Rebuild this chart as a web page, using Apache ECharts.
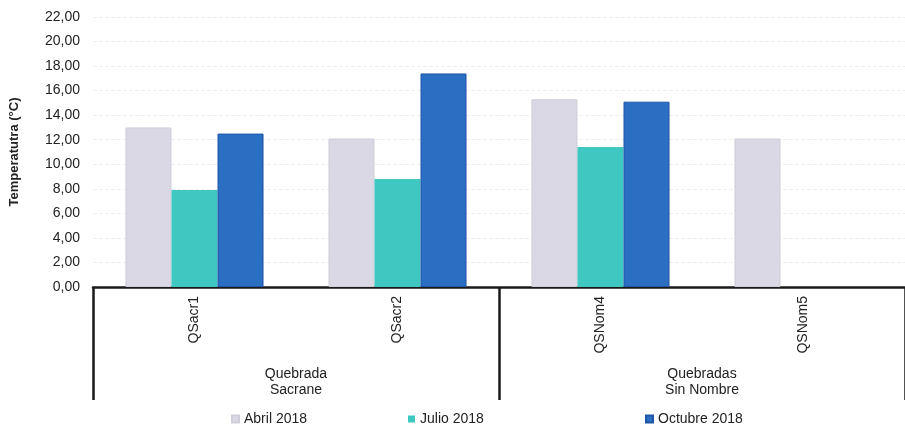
<!DOCTYPE html>
<html>
<head>
<meta charset="utf-8">
<script src="https://cdn.jsdelivr.net/npm/echarts@6/dist/echarts.min.js"></script>
<style>
  html, body { margin: 0; padding: 0; background: #fff; }
  #chart { width: 905px; height: 432px; }
</style>
</head>
<body>
<div id="chart"></div>
<script>
// Stations and the stream each belongs to
const stations = ['QSacr1', 'QSacr2', 'QSNom4', 'QSNom5'];
const streams = ['Quebrada\nSacrane', 'Quebradas\nSin Nombre'];

// Water temperature (°C) per sampling campaign
const abril2018 = [13.0, 12.1, 15.3, 12.1];
const julio2018 = [7.9, 8.8, 11.4, null];
const octubre2018 = [12.5, 17.4, 15.1, null];

const seriesNames = ['Abril 2018', 'Julio 2018', 'Octubre 2018'];
const yTicks = { min: 0, max: 22, step: 2 };

const colors = ['#dad8e4', '#3fc8c2', '#2b6fc3'];
const font = 'Liberation Sans, Arial, sans-serif';

const chart = echarts.init(document.getElementById('chart'));

function legendAt(name, left) {
  return {
    data: [name],
    left: left,
    bottom: 1,
    itemWidth: 7,
    itemHeight: 7,
    icon: 'rect',
    itemGap: 3,
    textStyle: { fontFamily: font, fontSize: 14, color: '#222' }
  };
}

chart.setOption({
  animation: false,
  backgroundColor: '#ffffff',
  grid: { left: 93, right: 0, top: 17, bottom: 145 },
  legend: [
    legendAt(seriesNames[0], 226),
    legendAt(seriesNames[1], 403),
    legendAt(seriesNames[2], 640)
  ],
  xAxis: [
    {
      type: 'category',
      data: stations,
      position: 'bottom',
      axisLine: { show: true, lineStyle: { color: '#1a1a1a', width: 2.5 } },
      axisTick: { show: false },
      axisLabel: {
        rotate: 90,
        margin: 9,
        fontFamily: font,
        fontSize: 14,
        color: '#222'
      }
    },
    {
      type: 'category',
      data: streams,
      position: 'bottom',
      axisLine: { show: false },
      axisTick: {
        show: true,
        length: 113,
        lineStyle: { color: '#1a1a1a', width: 2.5 }
      },
      axisLabel: {
        margin: 79,
        fontFamily: font,
        fontSize: 14,
        lineHeight: 16,
        color: '#222'
      }
    }
  ],
  yAxis: {
    type: 'value',
    min: yTicks.min,
    max: yTicks.max,
    interval: yTicks.step,
    name: 'Temperatutra (°C)',
    nameLocation: 'middle',
    nameGap: 72,
    nameRotate: 90,
    nameTextStyle: { fontFamily: font, fontSize: 13, fontWeight: 'bold', color: '#222' },
    axisLine: { show: false },
    axisTick: { show: false },
    axisLabel: {
      margin: 13,
      fontFamily: font,
      fontSize: 14,
      color: '#222',
      formatter: v => v.toFixed(2).replace('.', ',')
    },
    splitLine: { show: true, lineStyle: { color: '#eeeeee', type: 'dashed', width: 1 } }
  },
  series: [
    {
      name: seriesNames[0], type: 'bar', data: abril2018,
      barGap: '0%', barCategoryGap: '32%',
      itemStyle: { color: colors[0], borderColor: '#cfcdd9', borderWidth: 1 }
    },
    {
      name: seriesNames[1], type: 'bar', data: julio2018,
      barGap: '0%', barCategoryGap: '32%',
      itemStyle: { color: colors[1] }
    },
    {
      name: seriesNames[2], type: 'bar', data: octubre2018,
      barGap: '0%', barCategoryGap: '32%',
      itemStyle: { color: colors[2], borderColor: '#1f56a8', borderWidth: 1 }
    }
  ]
});
</script>
</body>
</html>
